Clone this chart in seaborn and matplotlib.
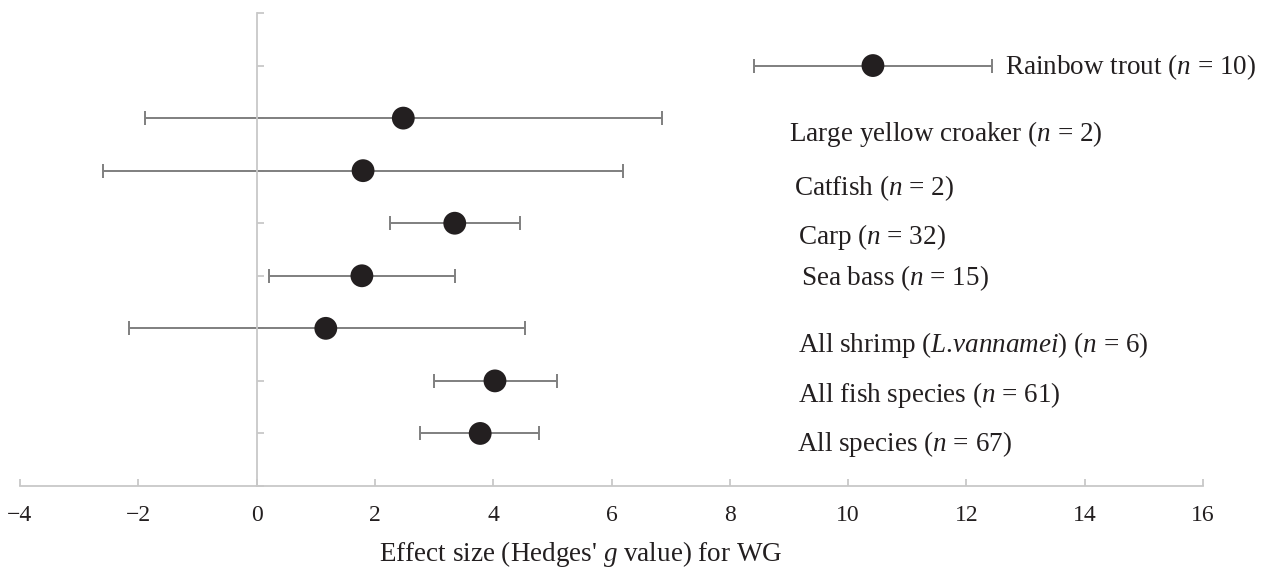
import matplotlib
matplotlib.use('Agg')
import matplotlib.pyplot as plt
import numpy as np
import pandas as pd
import seaborn as sns

# effect sizes, top row first
groups = ['Rainbow trout', 'Large yellow croaker', 'Catfish', 'Carp', 'Sea bass',
          'All shrimp', 'All fish species', 'All species']
labels = [r'Rainbow trout ($n$ = 10)',
          r'Large yellow croaker ($n$ = 2)',
          r'Catfish ($n$ = 2)',
          r'Carp ($n$ = 32)',
          r'Sea bass ($n$ = 15)',
          r'All shrimp ($L$.$\mathit{vannamei}$) ($n$ = 6)',
          r'All fish species ($n$ = 61)',
          r'All species ($n$ = 67)']
g_mean = [10.42, 2.48, 1.80, 3.35, 1.78, 1.17, 4.03, 3.78]
ci_low = [8.41, -1.89, -2.59, 2.26, 0.21, -2.16, 3.00, 2.77]
ci_high = [12.43, 6.86, 6.19, 4.45, 3.35, 4.54, 5.08, 4.78]

df = pd.DataFrame({'group': groups, 'label': labels, 'g': g_mean,
                   'lo': ci_low, 'hi': ci_high})
df['row'] = np.arange(len(df), 0, -1)   # trout on top (8) ... all species (1)

# label placement (data coords), tweaked by eye
lab_x = [12.66, 9.0, 9.08, 9.16, 9.2, 9.16, 9.16, 9.14]
lab_dy = [-0.03, -0.31, -0.33, -0.26, -0.05, -0.32, -0.26, -0.2]

sns.set_theme(style='white')
plt.rcParams['font.family'] = ['Liberation Serif', 'DejaVu Serif']
plt.rcParams['mathtext.fontset'] = 'custom'
plt.rcParams['mathtext.rm'] = 'Liberation Serif'
plt.rcParams['mathtext.it'] = 'Liberation Serif:italic'

txt = '#231f20'
axc = '#c8c8c8'
errc = '#7f7f7f'

fig = plt.figure(figsize=(12.66, 5.78), dpi=100)
ax = fig.add_axes([20/1266, 1 - 486/578, (1203-20)/1266, (486-13)/578])

ax.errorbar(df.g, df.row, xerr=[df.g - df.lo, df.hi - df.g], fmt='none',
            ecolor=errc, elinewidth=1.4, capsize=5, capthick=1.4, zorder=2)
sns.scatterplot(data=df, x='g', y='row', ax=ax, color=txt, s=270,
                edgecolor='none', zorder=3, legend=False)

for i, r in df.iterrows():
    ax.text(lab_x[i], r.row + lab_dy[i], r.label, fontsize=19.5, color=txt,
            ha='left', va='center')

ax.set_xlim(-4, 16)
ax.set_ylim(0, 9)
ax.set_xticks(range(-4, 17, 2))
ax.set_yticks(range(0, 10))
ax.set_yticklabels([])

for s in ['top', 'right']:
    ax.spines[s].set_visible(False)
ax.spines['left'].set_position(('data', 0))
ax.spines['left'].set_color(axc)
ax.spines['bottom'].set_color(axc)
ax.spines['left'].set_linewidth(1.3)
ax.spines['bottom'].set_linewidth(1.3)
ax.tick_params(axis='x', direction='in', length=5, width=1.3, color=axc,
               labelsize=17, labelcolor=txt, pad=14, bottom=True)
ax.tick_params(axis='y', direction='in', length=5, width=1.3, color=axc,
               left=True)

ax.set_xlabel(r"Effect size (Hedges' $g$ value) for WG", fontsize=19.5,
              color=txt)
ax.xaxis.set_label_coords(0.474, -0.112)
ax.set_ylabel('')

fig.savefig('out.png', dpi=100)
